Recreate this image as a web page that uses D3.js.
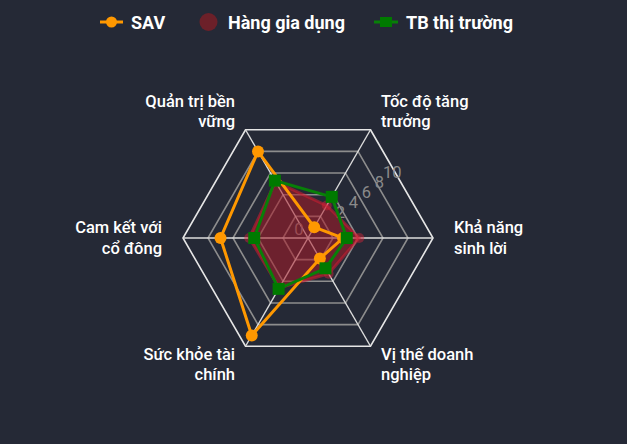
<!DOCTYPE html>
<html>
<head>
<meta charset="utf-8">
<script src="https://cdn.jsdelivr.net/npm/d3@7"></script>
<style>
  html, body { margin: 0; padding: 0; background: #252936; }
  svg { display: block; font-family: Roboto, "Noto Sans", sans-serif; }
</style>
</head>
<body>
<svg id="chart" width="627" height="444"></svg>
<script>
// axes, clockwise from upper right
const axes = [
  ["Tốc độ tăng", "trưởng"],
  ["Khả năng", "sinh lời"],
  ["Vị thế doanh", "nghiệp"],
  ["Sức khỏe tài", "chính"],
  ["Cam kết với", "cổ đông"],
  ["Quản trị bền", "vững"]
];
const savValues = [1, 2.8, 1.9, 9, 7, 8];
const hangGiaDungValues = [3, 4.1, 3.3, 4.6, 4.7, 5.2];
const tbValues = [3.8, 3.1, 2.8, 4.7, 4.3, 5.3];
const ticks = [0, 2, 4, 6, 8, 10];
const seriesNames = ["SAV", "Hàng gia dụng", "TB thị trường"];

const width = 627, height = 444;
const cx = 308, cy = 238;
const svg = d3.select("#chart");

const r = d3.scaleLinear().domain([0, 10]).range([0, 125]);
const angle = d3.scaleLinear().domain([0, axes.length]).range([Math.PI / 6, Math.PI / 6 + 2 * Math.PI]);
const pt = (i, v) => [cx + r(v) * Math.sin(angle(i)), cy - r(v) * Math.cos(angle(i))];

const g = svg.append("g");

// rings
const ring = (v) => d3.range(axes.length).map((i) => pt(i, v));
g.selectAll(".ring")
  .data(ticks.filter((t) => t > 0))
  .enter()
  .append("polygon")
  .attr("points", (d) => ring(d).join(" "))
  .attr("fill", "none")
  .attr("stroke", (d) => (d === 10 ? "#e6e6e6" : "#8d8d8d"))
  .attr("stroke-width", 1.6);

// spokes
g.selectAll(".spoke")
  .data(axes)
  .enter()
  .append("line")
  .attr("x1", cx)
  .attr("y1", cy)
  .attr("x2", (d, i) => pt(i, 10)[0])
  .attr("y2", (d, i) => pt(i, 10)[1])
  .attr("stroke", "#dcdcdc")
  .attr("stroke-width", 1.4);

// tick labels, laid out on a slanted line
const tickR = d3.scaleLinear().domain([2, 10]).range([41, 107]);
const tickA = (38 * Math.PI) / 180;
g.selectAll(".tick")
  .data(ticks)
  .enter()
  .append("text")
  .attr("x", (d) => (d === 0 ? cx - 9 : cx + tickR(d) * Math.cos(tickA)))
  .attr("y", (d) => (d === 0 ? cy - 9 : cy - tickR(d) * Math.sin(tickA)))
  .attr("text-anchor", "middle")
  .attr("dominant-baseline", "central")
  .attr("font-size", 16.5)
  .attr("fill", "#8a8a8a")
  .text((d) => d);

const line = d3.line();

// Hàng gia dụng
const redPts = hangGiaDungValues.map((v, i) => pt(i, v));
g.append("path")
  .attr("d", line(redPts) + "Z")
  .attr("fill", "rgba(170, 28, 40, 0.55)")
  .attr("stroke", "rgba(210, 30, 50, 0.55)")
  .attr("stroke-width", 3)
  .attr("stroke-linejoin", "round");
g.selectAll(".redpt")
  .data(redPts)
  .enter()
  .append("circle")
  .attr("cx", (d) => d[0])
  .attr("cy", (d) => d[1])
  .attr("r", 5)
  .attr("fill", "rgba(215, 35, 55, 0.45)");

// SAV
const savPts = savValues.map((v, i) => pt(i, v));
g.append("path")
  .attr("d", line(savPts) + "Z")
  .attr("fill", "none")
  .attr("stroke", "#ff9800")
  .attr("stroke-width", 3);
g.selectAll(".savpt")
  .data(savPts)
  .enter()
  .append("circle")
  .attr("cx", (d) => d[0])
  .attr("cy", (d) => d[1])
  .attr("r", 6)
  .attr("fill", "#ff9800");

// TB thị trường
const tbPts = tbValues.map((v, i) => pt(i, v));
g.append("path")
  .attr("d", line(tbPts) + "Z")
  .attr("fill", "none")
  .attr("stroke", "#087f08")
  .attr("stroke-width", 3);
g.selectAll(".tbpt")
  .data(tbPts)
  .enter()
  .append("rect")
  .attr("x", (d) => d[0] - 6)
  .attr("y", (d) => d[1] - 6)
  .attr("width", 12)
  .attr("height", 12)
  .attr("fill", "#007a00");

// axis labels
const labelR = r(10) + 21;
axes.forEach((lines, i) => {
  const a = angle(i);
  const x = cx + labelR * Math.sin(a);
  const y = cy - labelR * Math.cos(a);
  const s = Math.sin(a);
  const anchor = Math.abs(s) < 0.1 ? "middle" : s > 0 ? "start" : "end";
  const t = svg.append("text")
    .attr("text-anchor", anchor)
    .attr("font-size", 16.5)
    .attr("font-weight", 500)
    .attr("fill", "#ffffff");
  lines.forEach((ln, k) => {
    t.append("tspan")
      .attr("x", x)
      .attr("y", y + (k - (lines.length - 1) / 2) * 20.5)
      .attr("dominant-baseline", "central")
      .text(ln);
  });
});

// legend
const legend = svg.append("g").attr("transform", "translate(0,22)");
const legX = [100, 199, 374];
const textX = [131, 228, 406];
legend.append("line").attr("x1", legX[0]).attr("x2", legX[0] + 23).attr("stroke", "#ff9800").attr("stroke-width", 3);
legend.append("circle").attr("cx", legX[0] + 11.5).attr("r", 5.5).attr("fill", "#ff9800");
legend.append("circle").attr("cx", legX[1] + 9.5).attr("r", 9).attr("fill", "#6c2029");
legend.append("line").attr("x1", legX[2]).attr("x2", legX[2] + 24).attr("stroke", "#087f08").attr("stroke-width", 3);
legend.append("rect").attr("x", legX[2] + 6).attr("y", -5).attr("width", 12).attr("height", 10).attr("fill", "#007a00");
legend.selectAll(".lt")
  .data(seriesNames)
  .enter()
  .append("text")
  .attr("x", (d, i) => textX[i])
  .attr("dominant-baseline", "central")
  .attr("font-size", 18)
  .attr("font-weight", 700)
  .attr("fill", "#ffffff")
  .text((d) => d);
</script>
</body>
</html>
